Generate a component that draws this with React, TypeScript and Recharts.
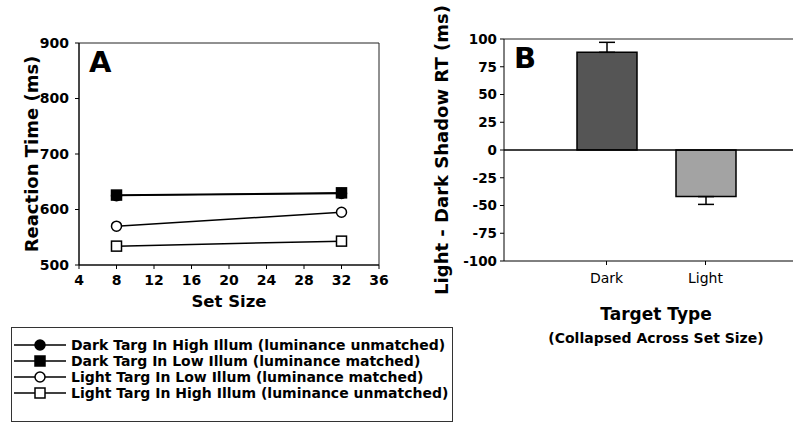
import React from 'react';
import {
  LineChart,
  Line,
  BarChart,
  Bar,
  Cell,
  XAxis,
  YAxis,
  ErrorBar,
  ReferenceLine,
  ReferenceArea,
  Label,
} from 'recharts';

const FONT = '"DejaVu Sans", Verdana, sans-serif';

// Panel A: reaction time by set size
const setSizes = [8, 32];
const darkHigh = [625, 629];
const darkLow = [626, 630];
const lightLow = [570, 595];
const lightHigh = [534, 543];
const setSizeTicks = [4, 8, 12, 16, 20, 24, 28, 32, 36];
const rtTicks = [500, 600, 700, 800, 900];

// Panel B: light - dark shadow RT
const targetTypes = ['Dark', 'Light'];
const shadowDiff = [88, -42];
const shadowErr = [
  [0, 9],
  [7, 0],
];
const barColors = ['#555555', '#a3a3a3'];
const diffTicks = [-100, -75, -50, -25, 0, 25, 50, 75, 100];

const series = [
  { key: 'darkHigh', name: 'Dark Targ In High Illum (luminance unmatched)', shape: 'circle', filled: true },
  { key: 'darkLow', name: 'Dark Targ In Low Illum (luminance matched)', shape: 'square', filled: true },
  { key: 'lightLow', name: 'Light Targ In Low Illum (luminance matched)', shape: 'circle', filled: false },
  { key: 'lightHigh', name: 'Light Targ In High Illum (luminance unmatched)', shape: 'square', filled: false },
];

const lineData = setSizes.map((x, i) => ({
  x,
  darkHigh: darkHigh[i],
  darkLow: darkLow[i],
  lightLow: lightLow[i],
  lightHigh: lightHigh[i],
}));

const barData = targetTypes.map((name, i) => ({
  name,
  value: shadowDiff[i],
  err: shadowErr[i],
}));

function marker(shape: string, filled: boolean, cx: number, cy: number, key?: any) {
  const fill = filled ? '#000' : '#fff';
  if (shape === 'square') {
    return <rect key={key} x={cx - 5} y={cy - 5} width={10} height={10} fill={fill} stroke="#000" strokeWidth={1.5} />;
  }
  return <circle key={key} cx={cx} cy={cy} r={5} fill={fill} stroke="#000" strokeWidth={1.5} />;
}

const tickStyle = { fill: '#000', fontSize: 14, fontWeight: 'bold', fontFamily: FONT };

function PanelA() {
  return (
    <LineChart
      width={400}
      height={315}
      data={lineData}
      margin={{ top: 43, right: 21, left: 19, bottom: 5 }}
    >
      <ReferenceArea x1={4} x2={36} y1={500} y2={900} fill="none" stroke="#222" strokeWidth={1} />
      <XAxis
        type="number"
        dataKey="x"
        domain={[4, 36]}
        ticks={setSizeTicks}
        height={45}
        tick={tickStyle}
        tickSize={4}
        tickMargin={6}
        stroke="#000"
      >
        <Label
          value="Set Size"
          position="insideTop"
          offset={30}
          style={{ fontSize: 16.5, fontWeight: 'bold', fontFamily: FONT, fill: '#000' }}
        />
      </XAxis>
      <YAxis
        type="number"
        domain={[500, 900]}
        ticks={rtTicks}
        width={60}
        tick={tickStyle}
        tickSize={4}
        tickMargin={6}
        stroke="#000"
      >
        <Label
          value="Reaction Time (ms)"
          angle={-90}
          position="insideLeft"
          offset={13}
          style={{ textAnchor: 'middle', fontSize: 18, fontWeight: 'bold', fontFamily: FONT, fill: '#000' }}
        />
      </YAxis>
      {series.map((s) => (
        <Line
          key={s.key}
          dataKey={s.key}
          stroke="#000"
          strokeWidth={1.5}
          isAnimationActive={false}
          dot={(p: any) => marker(s.shape, s.filled, p.cx, p.cy, `${s.key}-${p.index}`)}
          activeDot={false}
        />
      ))}
      <text x={89} y={72} fontSize={29} fontWeight="bold" fontFamily={FONT} fill="#000">
        A
      </text>
    </LineChart>
  );
}

function PanelB() {
  return (
    <BarChart
      width={410}
      height={370}
      data={barData}
      margin={{ top: 39, right: 2, left: 40, bottom: 19 }}
    >
      <ReferenceLine y={100} stroke="#222" strokeWidth={1} />
      <XAxis
        dataKey="name"
        padding={{ left: 53, right: 53 }}
        height={90}
        tick={{ fill: '#000', fontSize: 14, fontFamily: FONT }}
        tickSize={4}
        tickMargin={8}
        stroke="#000"
      >
        <Label
          value="Target Type"
          position="insideTop"
          offset={47}
          style={{ fontSize: 17, fontWeight: 'bold', fontFamily: FONT, fill: '#000' }}
        />
        <Label
          value="(Collapsed Across Set Size)"
          position="insideTop"
          offset={72}
          style={{ fontSize: 14, fontWeight: 'bold', fontFamily: FONT, fill: '#000' }}
        />
      </XAxis>
      <YAxis
        type="number"
        domain={[-100, 100]}
        ticks={diffTicks}
        width={64}
        tick={{ ...tickStyle, fontSize: 13.5 }}
        tickSize={4}
        tickMargin={3}
        stroke="#000"
      >
        <Label
          value="Light - Dark Shadow RT (ms)"
          angle={-90}
          position="insideLeft"
          offset={2}
          style={{ textAnchor: 'middle', fontSize: 18, fontWeight: 'bold', fontFamily: FONT, fill: '#000' }}
        />
      </YAxis>
      <ReferenceLine y={0} stroke="#000" strokeWidth={1.5} />
      <Bar dataKey="value" barSize={60} stroke="#000" strokeWidth={1.5} isAnimationActive={false}>
        {barData.map((d, i) => (
          <Cell key={d.name} fill={barColors[i]} />
        ))}
        <ErrorBar dataKey="err" width={8} stroke="#000" strokeWidth={1.5} />
      </Bar>
      <text x={114} y={68} fontSize={29} fontWeight="bold" fontFamily={FONT} fill="#000">
        B
      </text>
    </BarChart>
  );
}

function LegendA() {
  return (
    <div
      style={{
        position: 'absolute',
        left: 11,
        top: 327,
        width: 442,
        height: 95,
        border: '1px solid #333',
        boxSizing: 'border-box',
        paddingTop: 9,
        fontFamily: FONT,
        fontWeight: 'bold',
        fontSize: 14,
        whiteSpace: 'nowrap',
      }}
    >
      {series.map((s) => (
        <div key={s.key} style={{ display: 'flex', alignItems: 'center', height: 16 }}>
          <svg width={54} height={14} style={{ marginLeft: 2, marginRight: 3 }}>
            <line x1={0} x2={52} y1={7} y2={7} stroke="#000" strokeWidth={1.5} />
            {marker(s.shape, s.filled, 26, 7)}
          </svg>
          <span>{s.name}</span>
        </div>
      ))}
    </div>
  );
}

export default function App() {
  return (
    <div
      style={{
        position: 'absolute',
        left: 0,
        top: 0,
        width: 793,
        height: 427,
        overflow: 'hidden',
        background: '#fff',
      }}
    >
      <div style={{ position: 'absolute', left: 0, top: 0 }}>
        <PanelA />
      </div>
      <div style={{ position: 'absolute', left: 400, top: 0 }}>
        <PanelB />
      </div>
      <LegendA />
    </div>
  );
}
